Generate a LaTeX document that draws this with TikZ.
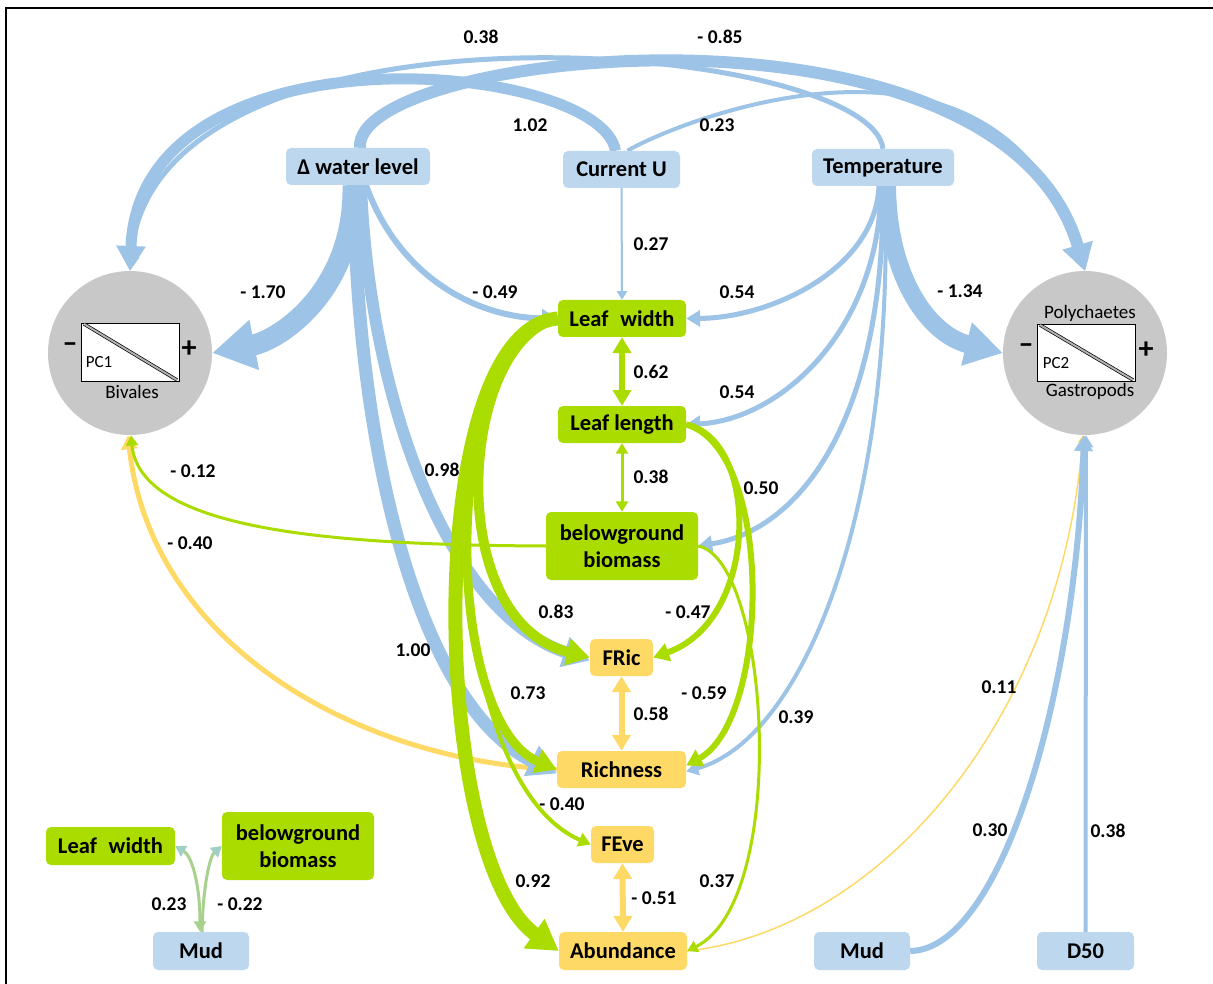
\documentclass[tikz,border=0pt]{standalone}
\usepackage{fontspec}
\setmainfont{Carlito}
\usetikzlibrary{arrows.meta,backgrounds}
\definecolor{bline}{RGB}{157,195,230}
\definecolor{bfill}{RGB}{189,215,238}
\definecolor{gfill}{RGB}{170,220,0}
\definecolor{yfill}{RGB}{255,217,102}
\definecolor{cgray}{RGB}{200,200,200}
\definecolor{mudg}{RGB}{169,209,142}
\definecolor{mudt}{RGB}{160,207,196}
\begin{document}
\begin{tikzpicture}[x=1pt,y=-1pt,
 box/.style={rounded corners=5pt, inner sep=0pt, minimum height=37pt, font=\fontsize{22.5}{27}\selectfont\bfseries, align=center},
 bbox/.style={box, fill=bfill},
 gbox/.style={box, fill=gfill},
 ybox/.style={box, fill=yfill},
 circ/.style={circle, fill=cgray, minimum size=164pt, inner sep=0pt},
 lab/.style={font=\fontsize{19.5}{21}\selectfont\bfseries, inner sep=0pt},
 ctext/.style={font=\fontsize{19}{21}\selectfont, inner sep=0pt},
 pm/.style={font=\fontsize{30}{30}\selectfont\bfseries, inner sep=0pt},
 arr/.style={-{Triangle[width=6pt 2,length=5pt 1.8]}},
 darr/.style={{Triangle[width=6pt 2,length=5pt 1.8]}-{Triangle[width=6pt 2,length=5pt 1.8]}},
 bl/.style={draw=bline, arr},
 gl/.style={draw=gfill, arr},
 yl/.style={draw=yfill, arr},
]
\useasboundingbox (0,0) rectangle (1213,984);

% nodes
\node[bbox, minimum width=144pt] (wl) at (358,166.5) {Δ water level};
\node[bbox, minimum width=117pt] (cu) at (621.5,169.5) {Current U};
\node[bbox, minimum width=142pt] (tp) at (883,167.5) {Temperature};
\node[gbox, minimum width=128pt] (lw) at (622,318.5) {Leaf\hspace{0.3em} width};
\node[gbox, minimum width=128pt] (ll) at (622,424.5) {Leaf length};
\node[gbox, minimum width=152pt, minimum height=68pt] (bg) at (622,546) {belowground\\biomass};
\node[ybox, minimum width=63pt] (fr) at (621.5,657.5) {FRic};
\node[ybox, minimum width=129pt] (ri) at (621.5,769.5) {Richness};
\node[ybox, minimum width=63pt] (fe) at (622.5,844.5) {FEve};
\node[ybox, minimum width=128pt, minimum height=38pt] (ab) at (623,951) {Abundance};
\node[gbox, minimum width=129pt, minimum height=38pt] (lw2) at (110.5,846) {Leaf\hspace{0.3em} width};
\node[gbox, minimum width=152pt, minimum height=68pt] (bg2) at (298,846) {belowground\\biomass};
\node[bbox, minimum width=96pt, minimum height=38pt] (mud1) at (201,951) {Mud};
\node[bbox, minimum width=96pt, minimum height=38pt] (mud2) at (862,951) {Mud};
\node[bbox, minimum width=97pt, minimum height=38pt] (d50) at (1085.5,951) {D50};
\node[circ] (lc) at (130,353) {};
\node[circ] (rc) at (1085,353) {};

% circle contents
\draw[fill=white, line width=0.8pt] (81,323) rectangle (179,381);
\draw[draw=black, line width=0.7pt, double=cgray!70!gray, double distance=2pt] (84,324) -- (177,380);
\node[ctext, font=\fontsize{17}{19}\selectfont] (pc1) at (99,362) {PC1};
\node[ctext] (biv) at (132,392) {Bivales};
\node[pm] (m1) at (70,348) {–};
\node[pm] (p1) at (189,349) {+};
\draw[fill=white, line width=0.8pt] (1037,324) rectangle (1135,381);
\draw[draw=black, line width=0.7pt, double=cgray!70!gray, double distance=2pt] (1040,325) -- (1133,380);
\node[ctext] (pol) at (1090,313) {Polychaetes};
\node[ctext] (gas) at (1090,391) {Gastropods};
\node[ctext, font=\fontsize{17}{19}\selectfont] (pc2) at (1056,363) {PC2};
\node[pm] (m2) at (1026,349) {–};
\node[pm] (p2) at (1146,350) {+};

% frame
\draw[line width=2pt] (6,984) -- (6,8) -- (1213,8);

\begin{scope}[on background layer]
\fill[white] (0,0) rectangle (1213,984);
% yellow
\draw[yl, line width=5pt] (ri.west) .. controls (350,760) and (150,640) .. ([xshift=-2pt]lc.south);
\draw[yl, line width=1.5pt] (ab.east) .. controls (880,930) and (1060,720) .. ([xshift=-2pt]rc.south);
\draw[draw=yfill, darr, line width=6pt] (fr.south) -- (ri.north);
\draw[draw=yfill, darr, line width=6pt] (fe.south) -- (ab.north);
% blue
\draw[bl, line width=12pt] ([xshift=2pt]wl.north) .. controls (352,50) and (1000,-20) .. (rc.north);
\draw[bl, line width=11pt] ([xshift=-6pt]cu.north) .. controls (600,60) and (140,20) .. (lc.north);
\draw[bl, line width=5pt] (tp.north) .. controls (870,40) and (150,-20) .. (lc.north);
\draw[bl, line width=4pt] ([xshift=6pt]cu.north) .. controls (660,130) and (1000,-20) .. (rc.north);
\draw[bl, line width=2pt] (cu.south) -- (lw.north);
\draw[bl, line width=21pt] ([xshift=-5pt]wl.south) .. controls (355,290) and (280,340) .. (lc.east);
\draw[bl, line width=6pt] ([xshift=8pt]wl.south) .. controls (400,280) and (480,318) .. (lw.west);
\draw[bl, line width=12pt] ([xshift=3pt]wl.south) .. controls (368,380) and (440,610) .. ([yshift=-3pt]fr.west);
\draw[bl, line width=13pt] ([xshift=-4pt]wl.south) .. controls (355,420) and (410,700) .. ([yshift=-4pt]ri.west);
\draw[bl, line width=18pt] ([xshift=4pt]tp.south) .. controls (888,280) and (930,335) .. (rc.west);
\draw[bl, line width=5pt] ([xshift=-4pt]tp.south) .. controls (875,270) and (770,318) .. (lw.east);
\draw[bl, line width=5pt] ([xshift=-2pt]tp.south) .. controls (880,330) and (780,420) .. (ll.east);
\draw[bl, line width=5pt] (tp.south) .. controls (885,420) and (800,530) .. (bg.east);
\draw[bl, line width=4pt] ([xshift=2pt]tp.south) .. controls (895,520) and (800,740) .. ([yshift=-2pt]ri.east);
\draw[bl, line width=6pt] (mud2.east) .. controls (1000,950) and (1075,700) .. ([xshift=-1pt]rc.south);
\draw[bl, line width=4pt] (d50.north) -- ([xshift=1pt]rc.south);
% green
\draw[draw=gfill, darr, line width=6pt] (lw.south) -- (ll.north);
\draw[draw=gfill, darr, line width=3pt] (ll.south) -- (bg.north);
\draw[gl, line width=3pt] (bg.west) .. controls (330,545) and (140,530) .. ([xshift=1pt]lc.south);
\draw[gl, line width=14pt] (lw.west) .. controls (420,330) and (430,860) .. (ab.west);
\draw[gl, line width=9pt] (lw.west) .. controls (440,340) and (440,720) .. (ri.west);
\draw[gl, line width=10pt] (lw.west) .. controls (460,340) and (440,620) .. (fr.west);
\draw[gl, line width=4pt] (lw.west) .. controls (430,340) and (440,780) .. (fe.west);
\draw[gl, line width=6pt] (ll.east) .. controls (760,440) and (760,620) .. (fr.east);
\draw[gl, line width=6pt] (ll.east) .. controls (775,450) and (770,720) .. ([yshift=4pt]ri.east);
\draw[gl, line width=3pt] (bg.east) .. controls (770,560) and (790,900) .. (ab.east);
% mud (left)
\draw[draw=mudg, line width=3pt, {Triangle[width=6pt 2,length=5pt 1.8,color=mudg]}-{Triangle[width=6pt 2,length=5pt 1.8,color=mudt]}] ([xshift=-1pt]mud1.north) .. controls (200,885) and (192,856) .. (lw2.east);
\draw[draw=mudg, line width=3pt, -{Triangle[width=6pt 2,length=5pt 1.8,color=mudt]}] ([xshift=1pt]mud1.north) .. controls (203,885) and (210,856) .. (bg2.west);
\end{scope}

% labels
\node[lab] (t1) at (481,37) {0.38};
\node[lab] (t2) at (720,37) {- 0.85};
\node[lab] (t3) at (530,125) {1.02};
\node[lab] (t4) at (717,125) {0.23};
\node[lab] (t5) at (651,244) {0.27};
\node[lab] (t6) at (263,292) {- 1.70};
\node[lab] (t7) at (495,292) {- 0.49};
\node[lab] (t8) at (737,292) {0.54};
\node[lab] (t9) at (960,291) {- 1.34};
\node[lab] (t10) at (651,372) {0.62};
\node[lab] (t11) at (737,392) {0.54};
\node[lab] (t12) at (442,470) {0.98};
\node[lab] (t13) at (193,471) {- 0.12};
\node[lab] (t14) at (651,477) {0.38};
\node[lab] (t15) at (761,488) {0.50};
\node[lab] (t16) at (190,543) {- 0.40};
\node[lab] (t17) at (556,612) {0.83};
\node[lab] (t18) at (688,612) {- 0.47};
\node[lab] (t19) at (413,650) {1.00};
\node[lab] (t20) at (528,693) {0.73};
\node[lab] (t21) at (704,693) {- 0.59};
\node[lab] (t22) at (651,714) {0.58};
\node[lab] (t23) at (796,717) {0.39};
\node[lab] (t24) at (999,687) {0.11};
\node[lab] (t25) at (562,804) {- 0.40};
\node[lab] (t26) at (990,830) {0.30};
\node[lab] (t27) at (1108,831) {0.38};
\node[lab] (t28) at (533,881) {0.92};
\node[lab] (t29) at (717,881) {0.37};
\node[lab] (t30) at (654,898) {- 0.51};
\node[lab] (t31) at (169,904) {0.23};
\node[lab] (t32) at (240,904) {- 0.22};
\end{tikzpicture}
\end{document}
